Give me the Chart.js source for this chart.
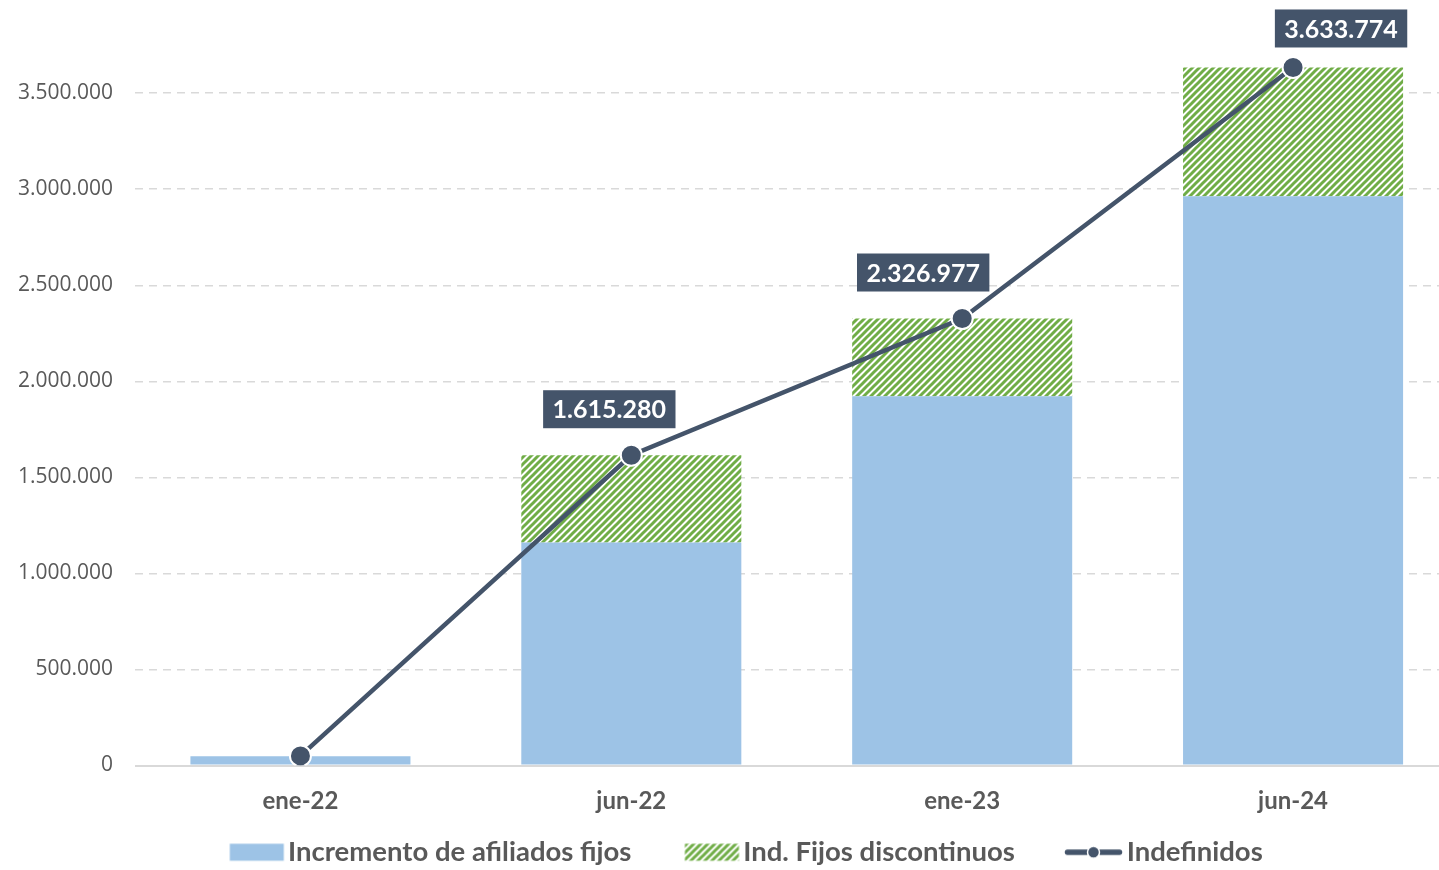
<!DOCTYPE html>
<html><head><meta charset="utf-8">
<script src="https://cdn.jsdelivr.net/npm/chart.js@4.4.0/dist/chart.umd.min.js"></script>
<style>html,body{margin:0;padding:0;overflow:hidden;background:#fff}
canvas{display:block}</style></head>
<body><canvas id="c" width="1471" height="870"></canvas>
<script>
const categories = ['ene-22', 'jun-22', 'ene-23', 'jun-24'];
const seriesNames = ['Incremento de afiliados fijos', 'Ind. Fijos discontinuos', 'Indefinidos'];
const incrementoFijos = [48000, 1161000, 1922000, 2964000];
const fijosDiscontinuos = [0, 454280, 404977, 669774];
const indefinidos = [50000, 1615280, 2326977, 3633774];
const yTickValues = [0, 500000, 1000000, 1500000, 2000000, 2500000, 3000000, 3500000];
const labelledPoints = [1, 2, 3];

const BLUE = '#9DC3E6', GREEN = '#70AD47', SLATE = '#44546A', TXT = '#595959';
const fmt = v => String(Math.round(v)).replace(/\B(?=(\d{3})+(?!\d))/g, '.');

function hatchPattern() {
  const s = 7, c = document.createElement('canvas');
  c.width = s; c.height = s;
  const g = c.getContext('2d');
  g.fillStyle = '#fff'; g.fillRect(0, 0, s, s);
  g.strokeStyle = GREEN; g.lineWidth = 3;
  g.beginPath();
  g.moveTo(-1, s + 1); g.lineTo(s + 1, -1);
  g.moveTo(-2, 2); g.lineTo(2, -2);
  g.moveTo(s - 2, s + 2); g.lineTo(s + 2, s - 2);
  g.stroke();
  return document.createElement('canvas').getContext('2d').createPattern(c, 'repeat');
}
const hatch = hatchPattern();

const ICON_W = 120, ICON_H = 20, ICON_R = 113.5;
function legendRect(fill) {
  const c = document.createElement('canvas'); c.width = ICON_W; c.height = ICON_H;
  const g = c.getContext('2d'); g.fillStyle = fill; g.fillRect(ICON_R - 54, 1.5, 54, 17); return c;
}
function legendLine() {
  const c = document.createElement('canvas'); c.width = ICON_W; c.height = ICON_H;
  const g = c.getContext('2d');
  const l = ICON_R - 58;
  g.strokeStyle = SLATE; g.lineWidth = 5.5; g.lineCap = 'round';
  g.beginPath(); g.moveTo(l + 3, 10); g.lineTo(l + 55, 10); g.stroke();
  g.fillStyle = SLATE; g.strokeStyle = '#fff'; g.lineWidth = 1.5;
  g.beginPath(); g.arc(l + 29, 10, 6, 0, Math.PI * 2); g.fill(); g.stroke();
  return c;
}
const legendIcons = [legendRect(BLUE), legendRect(hatch), legendLine()];

const valueLabels = {
  id: 'valueLabels',
  afterDatasetsDraw(chart, args, opts) {
    const meta = chart.getDatasetMeta(2);
    const ctx = chart.ctx;
    ctx.save();
    ctx.font = 'bold 25px Lato';
    ctx.textAlign = 'center'; ctx.textBaseline = 'middle';
    labelledPoints.forEach((i, k) => {
      const p = meta.data[i];
      const off = opts.offsets[k];
      const cx = p.x + off[0], cy = p.y + off[1];
      const w = ctx.measureText(fmt(indefinidos[i])).width + 19, h = 38;
      ctx.fillStyle = SLATE;
      ctx.fillRect(cx - w / 2, cy - h / 2, w, h);
      ctx.fillStyle = '#fff';
      ctx.fillText(fmt(indefinidos[i]), cx, cy + 1);
    });
    ctx.restore();
  }
};

const legendShift = {
  id: 'legendShift',
  afterLayout(chart, args, opts) {
    if (chart.legend) { chart.legend.left += opts.dx; chart.legend.right += opts.dx; }
  }
};

new Chart(document.getElementById('c'), {
  data: {
    labels: categories,
    datasets: [
      { type: 'bar', label: seriesNames[0], data: incrementoFijos, backgroundColor: BLUE, stack: 'bars', order: 2 },
      { type: 'bar', label: seriesNames[1], data: fijosDiscontinuos, backgroundColor: hatch, stack: 'bars', order: 2 },
      { type: 'line', label: seriesNames[2], data: indefinidos, stack: 'line', order: 1,
        borderColor: SLATE, borderWidth: 4.5, tension: 0,
        pointRadius: 10.5, pointBackgroundColor: SLATE, pointBorderColor: '#fff', pointBorderWidth: 2 }
    ]
  },
  options: {
    responsive: false, animation: false,
    layout: { padding: { top: 2, left: 0, right: 0, bottom: -6 } },
    datasets: { bar: { barPercentage: 1, categoryPercentage: 0.665 } },
    scales: {
      x: {
        stacked: true,
        afterFit: s => { s.height = 63; s.paddingLeft = 0; s.paddingRight = 0; },
        grid: { display: false },
        border: { display: false },
        ticks: { color: TXT, font: { family: 'Lato', weight: 'bold', size: 24 }, padding: 13 }
      },
      y: {
        stacked: true, min: 0, max: 3920000,
        afterBuildTicks: s => { s.ticks = yTickValues.map(v => ({ value: v })); },
        afterFit: s => { s.width = 135; s.paddingTop = 0; s.paddingBottom = 0; },
        grid: { color: '#D9D9D9', lineWidth: c => c.tick && c.tick.value === 0 ? 2 : 1.5, drawTicks: false },
        border: { display: false, dash: c => c.tick && c.tick.value === 0 ? [] : [8, 6] },
        ticks: { color: TXT, font: { family: 'Open Sans', size: 21 }, padding: 22, callback: v => fmt(v) }
      }
    },
    plugins: {
      tooltip: { enabled: false },
      valueLabels: { offsets: [[-22, -46], [-39, -46], [48, -39]] },
      legendShift: { dx: -11 },
      legend: {
        position: 'bottom',
        labels: {
          usePointStyle: true, pointStyleWidth: 88, padding: 10,
          color: TXT, font: { family: 'Lato', weight: 'bold', size: 27.5 },
          generateLabels: chart => seriesNames.map((n, i) => ({
            text: n, pointStyle: legendIcons[i], fillStyle: 'transparent', strokeStyle: 'transparent',
            lineWidth: 0, fontColor: TXT, datasetIndex: i, hidden: false
          }))
        }
      }
    }
  },
  plugins: [valueLabels, legendShift]
});
</script></body></html>
